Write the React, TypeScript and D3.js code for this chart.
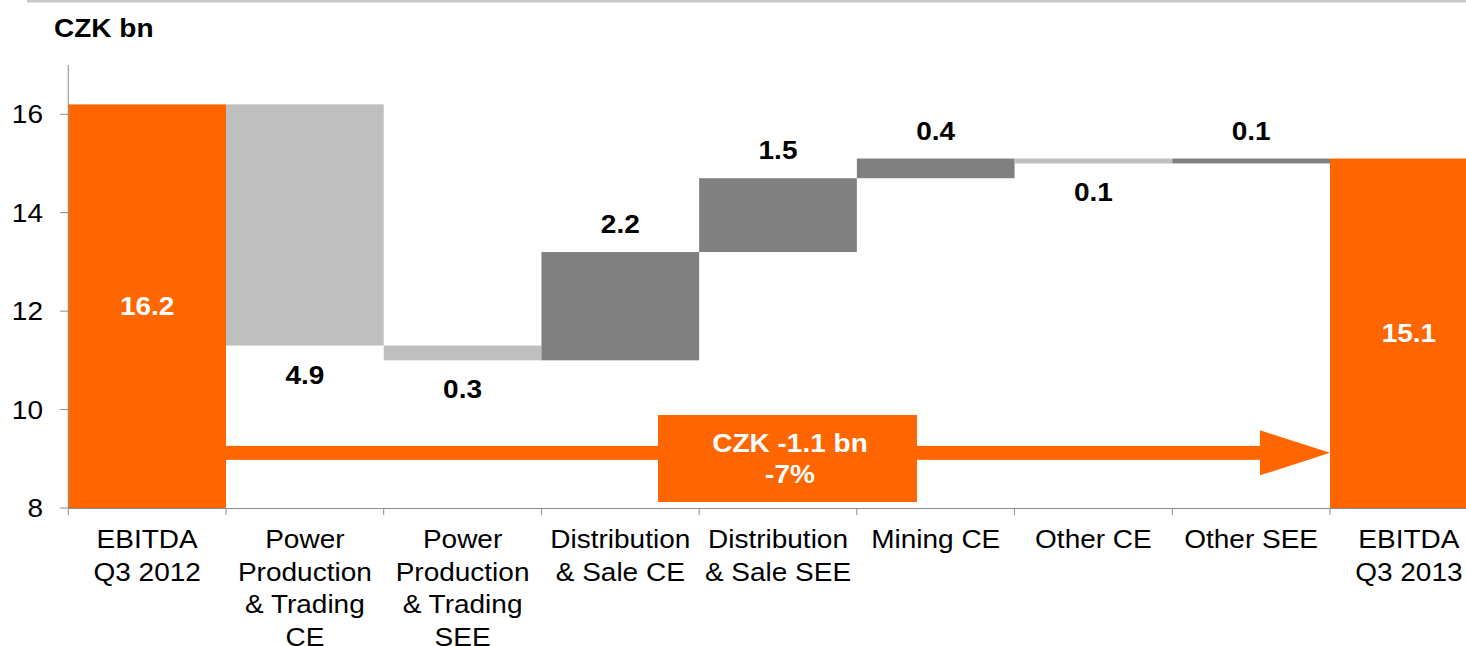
import React from "react";
import * as d3 from "d3";

const categories: string[][] = [
  ["EBITDA", "Q3 2012"],
  ["Power", "Production", "& Trading", "CE"],
  ["Power", "Production", "& Trading", "SEE"],
  ["Distribution", "& Sale CE"],
  ["Distribution", "& Sale SEE"],
  ["Mining CE"],
  ["Other CE"],
  ["Other SEE"],
  ["EBITDA", "Q3 2013"],
];
const startValue = 16.2;
const deltas = [-4.9, -0.3, 2.2, 1.5, 0.4, -0.1, 0.1];
const endValue = 15.1;
const yTicks = [8, 10, 12, 14, 16];
const unitLabel = "CZK bn";
const summaryLines = ["CZK -1.1 bn", "-7%"];
const arrowLevel = 9.12;

const W = 1466;
const H = 646;
const ORANGE = "#FF6600";
const LIGHT = "#BFBFBF";
const DARK = "#808080";
const AXIS = "#8C8C8C";
const SX = 1.12;
const FONT = "Liberation Sans, Arial, sans-serif";

const T = ({ x, y, children, anchor = "middle", weight = "normal", fill = "#000", size = 25 }: any) => (
  <text
    transform={`translate(${x},${y}) scale(${SX},1)`}
    textAnchor={anchor}
    fontWeight={weight}
    fill={fill}
    fontSize={size}
    fontFamily={FONT}
  >
    {children}
  </text>
);

export default function App() {
  const step = (1330 - 226) / 7;
  const left = 226 - step;
  const x = d3
    .scaleBand<number>()
    .domain(d3.range(categories.length))
    .range([left, left + step * categories.length])
    .padding(0);
  const y = d3.scaleLinear().domain([8, 17]).range([508, 65]);

  // build waterfall segments
  const bars: { i: number; lo: number; hi: number; color: string; label: string; type: string }[] = [];
  bars.push({ i: 0, lo: 8, hi: startValue, color: ORANGE, label: startValue.toFixed(1), type: "total" });
  let cum = startValue;
  deltas.forEach((d, k) => {
    const next = +(cum + d).toFixed(2);
    bars.push({
      i: k + 1,
      lo: Math.min(cum, next),
      hi: Math.max(cum, next),
      color: d < 0 ? LIGHT : DARK,
      label: Math.abs(d).toFixed(1),
      type: d < 0 ? "neg" : "pos",
    });
    cum = next;
  });
  bars.push({ i: categories.length - 1, lo: 8, hi: endValue, color: ORANGE, label: endValue.toFixed(1), type: "total" });

  const bw = x.bandwidth();
  const ay = y(arrowLevel);
  const shaftStart = x(1)!;
  const tip = x(categories.length - 1)!;
  const headLen = 70;
  const headHalf = 22.5;
  const shaftHalf = 7;
  const boxL = 658, boxR = 917, boxT = 415, boxB = 502;

  return (
    <svg width={W} height={H} style={{ position: "absolute", left: 0, top: 0 }}>
      <rect x={0} y={0} width={W} height={H} fill="#fff" />
      <rect x={27} y={0} width={W - 27} height={2.5} fill="#C8C8C8" />
      <T x={54} y={37} anchor="start" weight="bold">{unitLabel}</T>

      {bars.map((b, k) => (
        <rect key={k} x={x(b.i)!} y={y(b.hi)} width={bw} height={y(b.lo) - y(b.hi)} fill={b.color} />
      ))}

      {/* arrow */}
      <rect x={shaftStart} y={ay - shaftHalf} width={tip - headLen - shaftStart} height={shaftHalf * 2} fill={ORANGE} />
      <path
        d={`M${tip - headLen},${ay - headHalf} L${tip},${ay} L${tip - headLen},${ay + headHalf} Z`}
        fill={ORANGE}
      />
      <rect x={boxL} y={boxT} width={boxR - boxL} height={boxB - boxT} fill={ORANGE} />
      <T x={790} y={452} weight="bold" fill="#fff">{summaryLines[0]}</T>
      <T x={790} y={483} weight="bold" fill="#fff">{summaryLines[1]}</T>

      {/* value labels */}
      {bars.map((b, k) => {
        const cx = x(b.i)! + bw / 2;
        let ly: number;
        let fill = "#000";
        if (b.type === "total") {
          ly = (y(b.hi) + y(b.lo)) / 2 + 9;
          fill = "#fff";
        } else if (b.type === "pos") {
          ly = y(b.hi) - 19;
        } else {
          ly = y(b.lo) + 38;
        }
        return (
          <T key={k} x={cx} y={ly} weight="bold" fill={fill}>{b.label}</T>
        );
      })}

      {/* y axis */}
      <line x1={left} x2={left} y1={65} y2={508} stroke={AXIS} strokeWidth={1} />
      {yTicks.map((t) => (
        <g key={t}>
          <line x1={60} x2={left} y1={y(t)} y2={y(t)} stroke={AXIS} />
          <T x={43} y={y(t) + 9} anchor="end">{t}</T>
        </g>
      ))}

      {/* x axis */}
      <line x1={left} x2={W} y1={508.5} y2={508.5} stroke={AXIS} strokeWidth={1} />
      {d3.range(categories.length + 1).map((k) => {
        const xx = left + k * step;
        return <line key={k} x1={xx} x2={xx} y1={508} y2={515} stroke={AXIS} />;
      })}
      {categories.map((lines, i) => (
        <g key={i}>
          {lines.map((ln, j) => (
            <T key={j} x={x(i)! + bw / 2} y={548 + j * 32.5}>{ln}</T>
          ))}
        </g>
      ))}
    </svg>
  );
}
